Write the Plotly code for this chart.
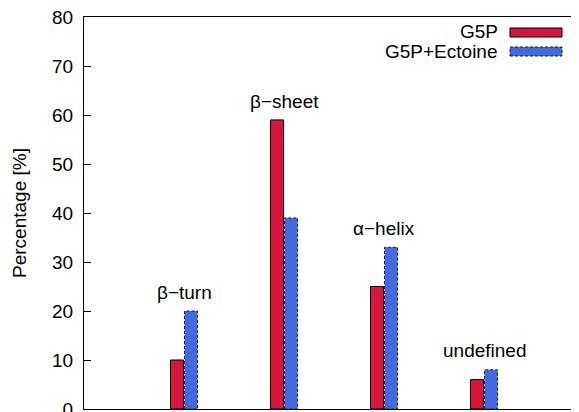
import plotly.graph_objects as go

categories = ["β−turn", "β−sheet", "α−helix", "undefined"]
positions = [1, 2, 3, 4]
g5p = [10, 59, 25, 6]
g5p_ectoine = [20, 39, 33, 8]
series_names = ["G5P", "G5P+Ectoine"]
y_ticks = [0, 10, 20, 30, 40, 50, 60, 70, 80]

RED = "#DC143C"
BLUE = "#4169E1"
FONT = "Liberation Sans, Arial, sans-serif"
FS = 19
BW = 0.13

fig = go.Figure()
fig.add_trace(go.Bar(x=positions, y=g5p, name=series_names[0], width=BW, offset=-BW - 0.005,
                     marker=dict(color=RED, line=dict(color="black", width=1))))
fig.add_trace(go.Bar(x=positions, y=g5p_ectoine, name=series_names[1], width=BW, offset=0.005,
                     marker=dict(color=BLUE, line=dict(color=BLUE, width=0))))
# dashed outlines for the second series
for p, v in zip(positions, g5p_ectoine):
    x0, x1 = p + 0.005, p + 0.005 + BW
    fig.add_trace(go.Scatter(x=[x0, x0, x1, x1, x0], y=[0, v, v, 0, 0], mode="lines",
                             line=dict(color="#1a1a40", width=1, dash="3px,2px"),
                             hoverinfo="skip", showlegend=False))

for p, name, a, b in zip(positions, categories, g5p, g5p_ectoine):
    fig.add_annotation(x=p, y=max(a, b) + 1.3, text=name, showarrow=False, yanchor="bottom",
                       font=dict(family=FONT, size=FS, color="black"))

# manual legend (text left, sample right)
fig.add_annotation(xref="paper", yref="paper", x=(500 - 84) / 495, y=1 - (32 - 17) / 392,
                   text=series_names[0], showarrow=False, xanchor="right", yanchor="middle",
                   font=dict(family=FONT, size=FS, color="black"))
fig.add_annotation(xref="paper", yref="paper", x=(500 - 84) / 495, y=1 - (51 - 17) / 392,
                   text=series_names[1], showarrow=False, xanchor="right", yanchor="middle",
                   font=dict(family=FONT, size=FS, color="black"))
fig.add_shape(type="rect", xref="paper", yref="paper",
              x0=(510 - 84) / 495, x1=(562 - 84) / 495,
              y0=1 - (37 - 17) / 392, y1=1 - (28 - 17) / 392,
              fillcolor=RED, line=dict(color="black", width=1))
fig.add_shape(type="rect", xref="paper", yref="paper",
              x0=(510 - 84) / 495, x1=(562 - 84) / 495,
              y0=1 - (56 - 17) / 392, y1=1 - (47 - 17) / 392,
              fillcolor=BLUE, line=dict(color="#1a1a40", width=1, dash="3px,2px"))

fig.update_layout(
    width=571, height=404,
    margin=dict(l=76, r=0, t=9, b=3),
    paper_bgcolor="white", plot_bgcolor="white",
    showlegend=False,
    font=dict(family=FONT, size=FS, color="black"),
    xaxis=dict(range=[0, 4.95], showticklabels=False, ticks="", showgrid=False, zeroline=False,
               showline=True, linecolor="black", linewidth=1, mirror=True),
    yaxis=dict(range=[0, 80], tickvals=y_ticks, ticks="inside", ticklen=7, tickcolor="black",
               showgrid=False, zeroline=False, showline=True, linecolor="black", linewidth=1,
               ticklabelstandoff=6, automargin=False, ticklabeloverflow="allow",
               title=dict(text="Percentage [%]", font=dict(family=FONT, size=FS), standoff=20)),
)

fig.write_html("out.html")
